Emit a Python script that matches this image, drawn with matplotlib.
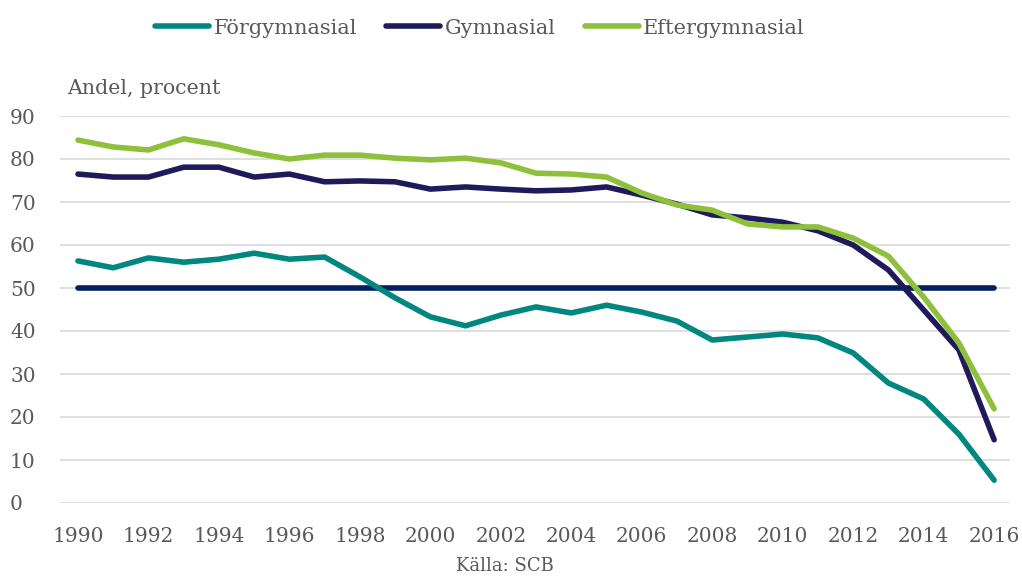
import matplotlib
matplotlib.use("Agg")
import matplotlib.pyplot as plt
from matplotlib.lines import Line2D

years = list(range(1990, 2017))
forgymnasial = [56.3, 54.7, 57.0, 56.0, 56.7, 58.1, 56.7, 57.2, 52.6, 47.7, 43.3, 41.2, 43.7,
                45.6, 44.2, 46.0, 44.4, 42.3, 37.9, 38.6, 39.3, 38.4, 34.9, 27.9, 24.2, 16.0, 5.3]
gymnasial = [76.5, 75.8, 75.8, 78.1, 78.1, 75.8, 76.5, 74.7, 74.9, 74.7, 73.0, 73.5, 73.0,
             72.6, 72.8, 73.5, 71.6, 69.5, 67.0, 66.3, 65.3, 63.3, 60.0, 54.2, 44.9, 35.6, 14.7]
eftergymnasial = [84.4, 82.8, 82.1, 84.7, 83.3, 81.4, 80.0, 80.9, 80.9, 80.2, 79.8, 80.2, 79.1,
                  76.7, 76.5, 75.8, 72.1, 69.3, 68.1, 64.9, 64.2, 64.2, 61.6, 57.4, 47.9, 37.2, 21.9]
reference_level = 50
series_names = ["Förgymnasial", "Gymnasial", "Eftergymnasial"]
yticks = [0, 10, 20, 30, 40, 50, 60, 70, 80, 90]
xticks = list(range(1990, 2017, 2))

plt.rcParams['font.family'] = ['DejaVu Serif']
text_color = "#595959"
colors = ["#00877f", "#1f1a5a", "#8fc03c"]

fig = plt.figure(figsize=(10.22, 5.76), dpi=100)
ax = fig.add_axes([60/1022, 73/576, 950/1022, 387/576])

for yv in yticks:
    ax.axhline(yv, color="#dcdcdc", lw=1.3, zorder=0)

ax.plot([years[0], years[-1]], [reference_level, reference_level], color="#002060", lw=4,
        solid_capstyle="round", zorder=2)
for vals, c in zip([forgymnasial, gymnasial, eftergymnasial], colors):
    ax.plot(years, vals, color=c, lw=4, solid_capstyle="round", solid_joinstyle="round",
            zorder=3, clip_on=False)

ax.set_xlim(1989.49, 2016.45)
ax.set_ylim(0, 90)
for s in ax.spines.values():
    s.set_visible(False)
ax.set_yticks(yticks)
ax.set_xticks(xticks)
ax.tick_params(length=0, labelsize=14.5, colors=text_color)
ax.tick_params(axis="x", pad=17)
ax.tick_params(axis="y", pad=36)
for lab in ax.get_yticklabels():
    lab.set_horizontalalignment("left")

fig.text(67/1022, 1 - 88/576, "Andel, procent", fontsize=14.8, color=text_color, va="center")
fig.text(505/1022, 1 - 566/576, "Källa: SCB", fontsize=13, color=text_color, ha="center", va="center")

handles = [Line2D([], [], color=c, lw=4, solid_capstyle="round") for c in colors]
fig.legend(handles, series_names, loc="center", bbox_to_anchor=(480/1022, 1 - 28/576),
           ncol=3, frameon=False, fontsize=15, labelcolor=text_color,
           handlelength=2.6, handletextpad=0.2, columnspacing=1.4)

fig.savefig("out.png", dpi=100)
